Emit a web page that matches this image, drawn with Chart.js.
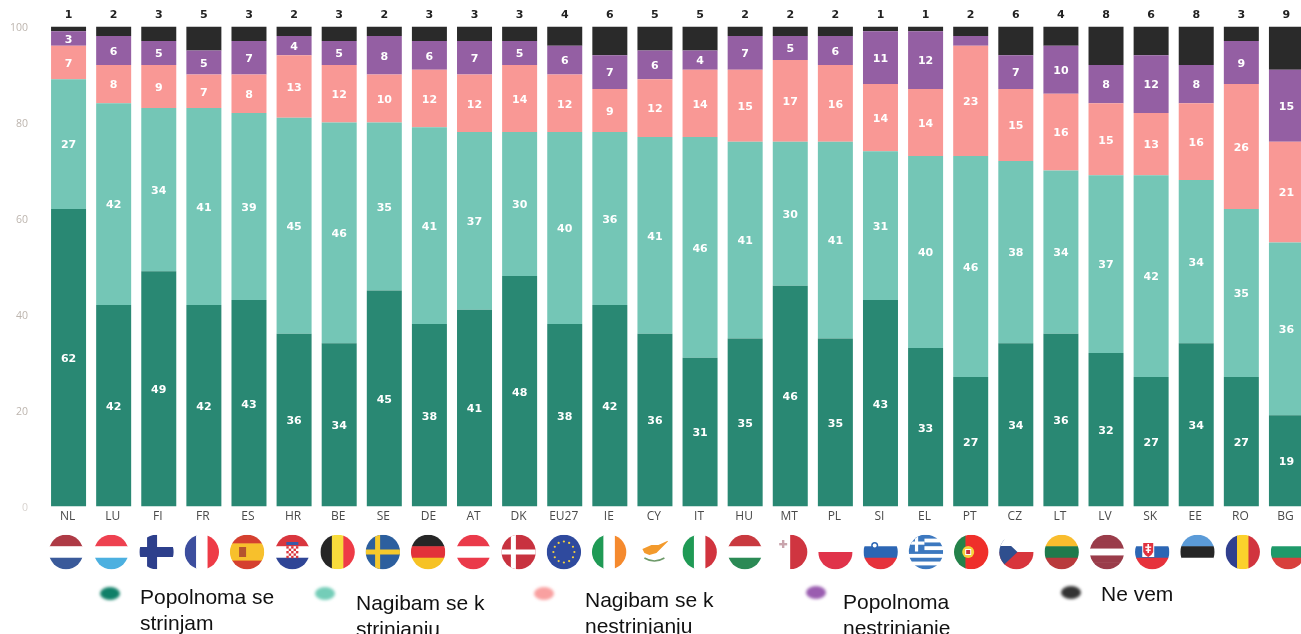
<!DOCTYPE html>
<html>
<head>
<meta charset="utf-8">
<title>Stacked bars</title>
<script src="https://cdn.jsdelivr.net/npm/chart.js@4"></script>
<style>
    html, body { margin: 0; width: 1301px; height: 634px; overflow: hidden; background: #fff; }
    #wrap { position: relative; width: 1301px; height: 634px; overflow: hidden; }
    canvas { position: absolute; left: 0; top: 0; filter: blur(0.4px); }
    .dot { position: absolute; width: 20px; height: 13px; border-radius: 50%; filter: blur(1.5px); }
    .lab { position: absolute; font: 21px/26px "Liberation Sans", Arial, sans-serif; color: #111; white-space: pre; }
</style>
</head>
<body>
<div id="wrap"><canvas id="bars" width="1309" height="634"></canvas></div>
<script>
const countries = ["NL","LU","FI","FR","ES","HR","BE","SE","DE","AT","DK","EU27","IE","CY","IT","HU","MT","PL","SI","EL","PT","CZ","LT","LV","SK","EE","RO","BG"]
const agreeFully = [62,42,49,42,43,36,34,45,38,41,48,38,42,36,31,35,46,35,43,33,27,34,36,32,27,34,27,19]
const agreeSome = [27,42,34,41,39,45,46,35,41,37,30,40,36,41,46,41,30,41,31,40,46,38,34,37,42,34,35,36]
const disagreeSome = [7,8,9,7,8,13,12,10,12,12,14,12,9,12,14,15,17,16,14,14,23,15,16,15,13,16,26,21]
const disagreeFully = [3,6,5,5,7,4,5,8,6,7,5,6,7,6,4,7,5,6,11,12,2,7,10,8,12,8,9,15]
const dontKnow = [1,2,3,5,3,2,3,2,3,3,3,4,6,5,5,2,2,2,1,1,2,6,4,8,6,8,3,9]
const seriesNames = ["Popolnoma se strinjam","Nagibam se k strinjanju","Nagibam se k nestrinjanju","Popolnoma nestrinjanje","Ne vem"]
const seriesColors = ["#298873","#74c6b6","#f99895","#945fa3","#2a2a2a"]
const yTicks = [0,20,40,60,80,100]

// legend is placed by hand, the original has it scattered a bit
const legendSpots = [
    { dot: [100, 587], text: [140, 584], lines: "Popolnoma se\nstrinjam", color: "#0f7f68" },
    { dot: [315, 587], text: [356, 590], lines: "Nagibam se k\nstrinjanju", color: "#74cdb8" },
    { dot: [534, 587], text: [585, 587], lines: "Nagibam se k\nnestrinjanju", color: "#f9a0a0" },
    { dot: [806, 586], text: [843, 589], lines: "Popolnoma\nnestrinjanje", color: "#9a5db0" },
    { dot: [1061, 586], text: [1101, 581], lines: "Ne vem", color: "#333" }
]
const wrap = document.getElementById("wrap")
legendSpots.forEach(s => {
    const d = document.createElement("div")
    d.className = "dot"
    d.style.left = s.dot[0] + "px"
    d.style.top = s.dot[1] + "px"
    d.style.background = s.color
    wrap.appendChild(d)
    const t = document.createElement("div")
    t.className = "lab"
    t.style.left = s.text[0] + "px"
    t.style.top = s.text[1] + "px"
    t.textContent = s.lines
    wrap.appendChild(t)
})

// plain striped flags: direction + colours, the fancier ones get extras below
const WHITE = "#fff"
const flagStripes = {
    NL: ["h", "#ae3a45", WHITE, "#3a5a9a"],
    LU: ["h", "#ee4150", WHITE, "#4cb0e0"],
    FI: ["h", WHITE],
    FR: ["v", "#3c4e9e", WHITE, "#ee3b46"],
    ES: ["h", "#d5402f", "#f7c02c", "#f7c02c", "#d5402f"],
    HR: ["h", "#d9363e", WHITE, "#2f4596"],
    BE: ["v", "#262626", "#f8dc3c", "#ee3b46"],
    SE: ["h", "#2c5f9e"],
    DE: ["h", "#262626", "#e2323a", "#f6c224"],
    AT: ["h", "#ea3a4a", WHITE, "#ea3a4a"],
    DK: ["h", "#c8323f"],
    EU27: ["h", "#2f4a9e"],
    IE: ["v", "#1f9a55", WHITE, "#f58a2e"],
    CY: ["h", WHITE],
    IT: ["v", "#1f9a55", WHITE, "#d1343e"],
    HU: ["h", "#c9393f", WHITE, "#2b8a55"],
    MT: ["v", WHITE, "#cf3540"],
    PL: ["h", WHITE, "#e0334a"],
    SI: ["h", WHITE, "#2c66b4", "#e6323c"],
    EL: ["h", "#3c78bf", WHITE, "#3c78bf", WHITE, "#3c78bf", WHITE, "#3c78bf", WHITE, "#3c78bf"],
    PT: ["v", "#24824a", "#ef2f2a", "#ef2f2a"],
    CZ: ["h", WHITE, "#d8353c"],
    LT: ["h", "#f9bd2e", "#1f7a4c", "#b93a3c"],
    LV: ["h", "#9a3c4a", "#9a3c4a", WHITE, "#9a3c4a", "#9a3c4a"],
    SK: ["h", WHITE, "#2c66b4", "#e6323c"],
    EE: ["h", "#5b9bd8", "#262626", WHITE],
    RO: ["v", "#303f8e", "#fbd12c", "#d1343e"],
    BG: ["h", WHITE, "#1f9a6a", "#d8403c"]
}

const flagExtras = {
    FI(c, r) { c.fillStyle = "#2d3f8c"; c.fillRect(-r, -5, 2 * r, 10); c.fillRect(-9.5, -r, 10, 2 * r) },
    SE(c, r) { c.fillStyle = "#f6c92c"; c.fillRect(-r, -2.5, 2 * r, 5); c.fillRect(-r * 0.45, -r, 5, 2 * r) },
    DK(c, r) { c.fillStyle = "#fff"; c.fillRect(-r, -2.5, 2 * r, 5); c.fillRect(-r * 0.45, -r, 5, 2 * r) },
    ES(c) { c.fillStyle = "#b5532e"; c.fillRect(-8, -5, 7, 10) },
    HR(c) {
        c.fillStyle = "#d9363e"
        for (let i = -2; i < 3; i++) for (let j = -2; j < 3; j++) if ((i + j + 4) % 2 == 0) c.fillRect(i * 2.4 - 1.2, j * 2.4 - 1, 2.4, 2.4)
        c.fillStyle = "#3a5aa8"; c.fillRect(-6, -10, 12, 3)
    },
    EU27(c) {
        c.fillStyle = "#f6d23c"
        for (let i = 0; i < 12; i++) {
            const a = i * Math.PI / 6
            c.beginPath(); c.arc(Math.cos(a) * 10.5, Math.sin(a) * 10.5, 1.1, 0, 7); c.fill()
        }
    },
    CY(c) {
        c.fillStyle = "#f39a2c"
        c.beginPath(); c.moveTo(-12, -3); c.lineTo(-3, -7); c.lineTo(4, -7); c.lineTo(15, -12); c.lineTo(7, -4); c.lineTo(2, 1); c.lineTo(-5, 3); c.lineTo(-10, 1); c.fill()
        c.strokeStyle = "#6e9a6a"; c.lineWidth = 1.5
        c.beginPath(); c.moveTo(-10, 6); c.quadraticCurveTo(0, 12, 10, 6); c.stroke()
    },
    MT(c) { c.fillStyle = "#c9a5ad"; c.fillRect(-11, -9, 8, 2.4); c.fillRect(-8.2, -12, 2.4, 8) },
    SI(c) { c.fillStyle = "#2c66b4"; c.beginPath(); c.arc(-6, -6.5, 3.5, 0, 7); c.fill(); c.fillStyle = "#fff"; c.beginPath(); c.arc(-6, -6.5, 2, 0, 7); c.fill() },
    EL(c) {
        c.fillStyle = "#3c78bf"; c.fillRect(-17.5, -17.5, 16, 17)
        c.fillStyle = "#fff"; c.fillRect(-17.5, -10.5, 16, 3.2); c.fillRect(-11, -17.5, 3.2, 17)
    },
    PT(c) { c.fillStyle = "#f6d23c"; c.beginPath(); c.arc(-3, 0, 6, 0, 7); c.fill(); c.fillStyle = "#fff"; c.fillRect(-6, -3, 6, 6); c.fillStyle = "#c8323f"; c.fillRect(-5, -2, 4, 4) },
    CZ(c) { c.fillStyle = "#2f4f8e"; c.beginPath(); c.moveTo(-18, -18); c.lineTo(1, 0); c.lineTo(-18, 18); c.fill(); c.fillStyle = "#fff"; c.beginPath(); c.moveTo(-20, -18); c.lineTo(-8, -18); c.lineTo(-4, -6); c.lineTo(-17, -6); c.fill() },
    SK(c) {
        c.fillStyle = "#fff"; c.fillRect(-10, -10, 12, 15)
        c.fillStyle = "#e0323f"; c.beginPath(); c.moveTo(-9, -9); c.lineTo(1, -9); c.lineTo(1, 0); c.quadraticCurveTo(0, 3, -4, 5); c.quadraticCurveTo(-8, 3, -9, 0); c.fill()
        c.fillStyle = "#fff"; c.fillRect(-4.8, -8, 1.6, 9); c.fillRect(-7, -5.5, 6, 1.4); c.fillRect(-6.5, -2.5, 5, 1.4)
    }
}

function drawFlag(c, code, x, y, r) {
    c.save()
    c.translate(x, y)
    c.beginPath()
    c.arc(0, 0, r, 0, Math.PI * 2)
    c.clip()
    const spec = flagStripes[code]
    const bands = spec.slice(1)
    bands.forEach((col, i) => {
        c.fillStyle = col
        if (spec[0] == "h") c.fillRect(-r, -r + i * 2 * r / bands.length, 2 * r, 2 * r / bands.length + 0.5)
        else c.fillRect(-r + i * 2 * r / bands.length, -r, 2 * r / bands.length + 0.5, 2 * r)
    })
    if (flagExtras[code]) flagExtras[code](c, r)
    c.restore()
}

const barLabels = {
    id: "barLabels",
    afterDatasetsDraw(chart) {
        const c = chart.ctx
        c.save()
        c.textAlign = "center"
        c.textBaseline = "middle"
        chart.data.datasets.forEach((ds, d) => {
            chart.getDatasetMeta(d).data.forEach((bar, i) => {
                const v = ds.data[i]
                c.font = "bold 11px 'DejaVu Sans'"
                if (d == 4) {
                    // top row sits above the stack, black
                    c.fillStyle = "#222"
                    c.fillText(v, bar.x, 15.5)
                } else if (v > 2) {
                    c.fillStyle = "#fff"
                    c.fillText(v, bar.x, (bar.y + bar.base) / 2 + 1.5)
                }
            })
        })
        c.restore()
    }
}

const flagRow = {
    id: "flagRow",
    afterDraw(chart) {
        countries.forEach((code, i) => {
            // flag row is spaced a touch wider than the bars in the original
            drawFlag(chart.ctx, code, chart.scales.x.getPixelForValue(i) - 2.5 + i * 0.15, 552, 17.2)
        })
    }
}

new Chart(document.getElementById("bars"), {
    type: "bar",
    data: {
        labels: countries,
        datasets: [agreeFully, agreeSome, disagreeSome, disagreeFully, dontKnow].map((vals, i) => ({
            label: seriesNames[i],
            data: vals,
            backgroundColor: seriesColors[i],
            categoryPercentage: 1,
            barPercentage: 0.776
        }))
    },
    options: {
        responsive: false,
        animation: false,
        layout: { padding: { top: 26.5, left: 0, right: 0, bottom: 0 } },
        plugins: { legend: { display: false }, tooltip: { enabled: false } },
        scales: {
            x: {
                stacked: true,
                grid: { display: false, drawTicks: false },
                border: { display: false },
                afterFit: s => { s.height = 127.5 },
                ticks: {
                    autoSkip: false,
                    maxRotation: 0,
                    padding: 3,
                    labelOffset: -1,
                    color: "#4a4a4a",
                    font: { family: "'Open Sans'", size: 12 }
                }
            },
            y: {
                stacked: true,
                min: 0,
                max: 100,
                grid: { display: false, drawTicks: false },
                border: { display: false },
                afterFit: s => { s.width = 46 },
                afterBuildTicks: s => { s.ticks = yTicks.map(v => ({ value: v })) },
                ticks: {
                    padding: 18,
                    labelOffset: 1.5,
                    color: ctx => ctx.tick.value == 0 ? "#d8d3cf" : "#bdb5ae",
                    font: { family: "'Open Sans'", size: 10.5 }
                }
            }
        }
    },
    plugins: [barLabels, flagRow]
})
</script>
</body>
</html>
